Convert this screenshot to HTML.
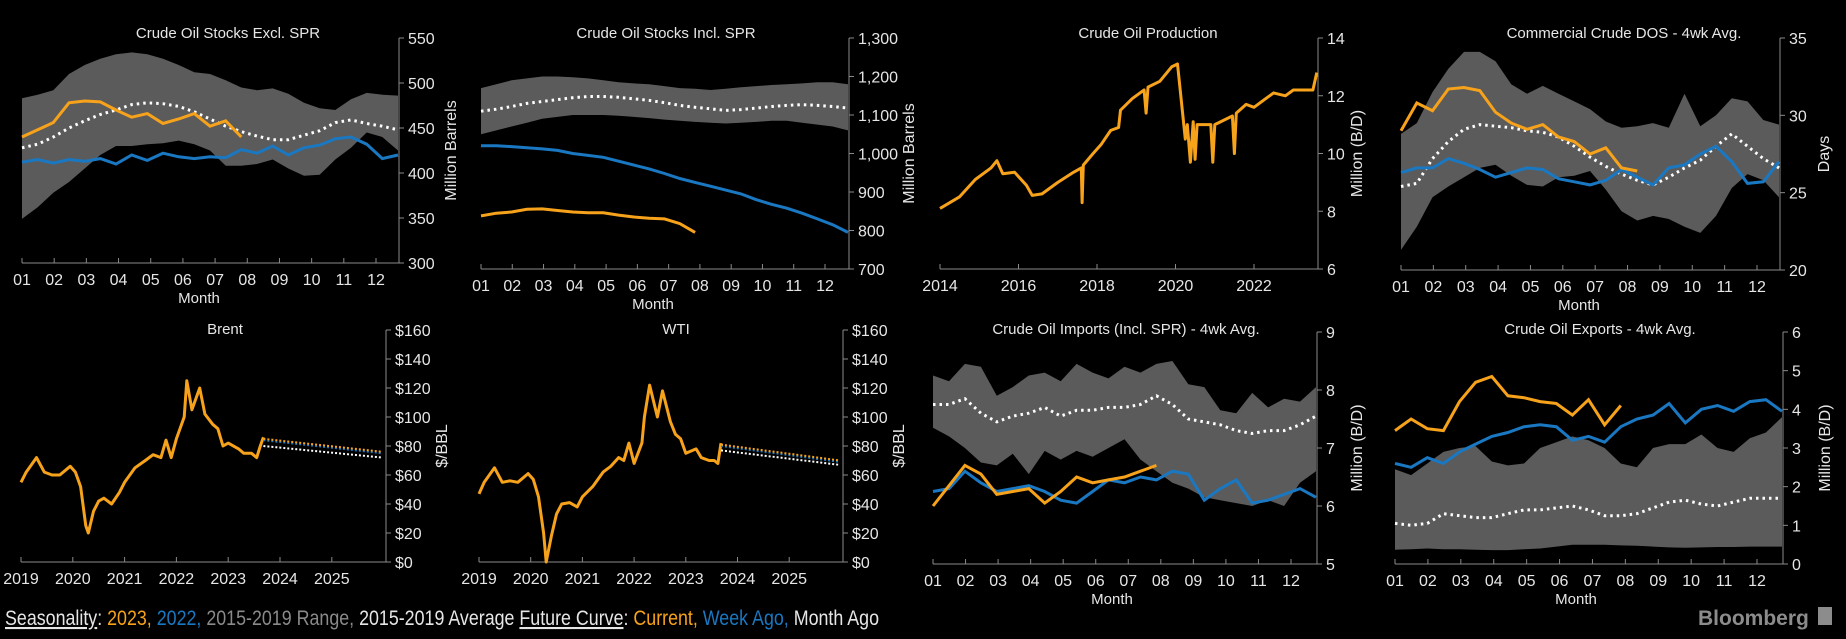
<!DOCTYPE html>
<html><head><meta charset="utf-8">
<style>
html,body{margin:0;padding:0;background:#000;}
svg{display:block;font-family:"Liberation Sans Narrow","Liberation Sans",sans-serif;}
</style></head>
<body>
<svg id="c" width="1846" height="639" viewBox="0 0 1846 639">
<text x="5" y="625" font-size="21" fill="#e6e6e6" textLength="874" lengthAdjust="spacingAndGlyphs"><tspan text-decoration="underline">Seasonality</tspan>: <tspan fill="#f7a21b">2023,</tspan> <tspan fill="#1a78c2">2022,</tspan> <tspan fill="#8a8a8a">2015-2019 Range,</tspan> 2015-2019 Average    <tspan text-decoration="underline">Future Curve</tspan>: <tspan fill="#f7a21b">Current,</tspan> <tspan fill="#1a78c2">Week Ago,</tspan> Month Ago</text>
<text x="1698" y="625" font-size="21" font-weight="bold" fill="#8c8c8c">Bloomberg</text>
<rect x="1818" y="607" width="14" height="18" fill="#8c8c8c"/>
</svg>
<script>
// ---- data ----
const p1Hi=[483,487,492,510,520,527,532,534,532,527,520,512,510,503,495,492,494,488,478,472,470,482,489,487,486];
const p1Lo=[349,362,378,390,405,420,430,430,432,433,436,432,425,408,408,410,415,405,397,398,415,428,445,440,425];
const p1Avg=[428,432,440,450,458,465,470,476,478,477,474,468,460,452,446,441,437,437,442,447,456,459,455,452,448];
const p1Y22=[412,415,411,415,413,416,410,420,414,422,418,416,418,417,426,422,430,420,428,431,438,440,432,416,420];
const p1Y23=[440,448,456,478,480,479,470,462,466,455,460,466,452,458,440];
const p1Ticks=[300,350,400,450,500,550];

const p2Hi=[1170,1180,1190,1195,1200,1200,1198,1195,1190,1185,1182,1180,1175,1170,1168,1165,1168,1172,1175,1178,1180,1182,1185,1185,1180];
const p2Lo=[1050,1060,1070,1080,1090,1095,1100,1100,1100,1098,1095,1092,1088,1085,1082,1080,1078,1080,1082,1085,1085,1080,1075,1070,1060];
const p2Avg=[1110,1115,1122,1130,1135,1140,1145,1148,1148,1146,1142,1138,1132,1125,1120,1116,1112,1114,1118,1122,1125,1127,1125,1122,1118];
const p2Y22=[1020,1020,1018,1015,1012,1008,1000,995,990,980,970,960,948,935,925,915,905,895,880,868,858,845,830,815,795];
const p2Y23=[838,845,848,855,856,852,848,846,846,840,835,832,830,818,795];
const p2Ticks=[700,800,900,1000,1100,1200,1300];

const p3Dates=[2014.0,2014.5,2014.9,2015.3,2015.45,2015.6,2015.9,2016.2,2016.35,2016.6,2017.0,2017.4,2017.6,2017.62,2017.65,2017.9,2018.1,2018.35,2018.55,2018.6,2018.9,2019.2,2019.25,2019.3,2019.6,2019.9,2020.05,2020.25,2020.3,2020.38,2020.45,2020.5,2020.55,2020.8,2020.9,2020.95,2021.0,2021.3,2021.45,2021.5,2021.55,2021.8,2022.0,2022.3,2022.5,2022.8,2023.0,2023.3,2023.5,2023.6];
const p3Vals=[8.1,8.5,9.1,9.5,9.75,9.3,9.35,8.9,8.55,8.6,9.0,9.35,9.5,8.3,9.6,10.0,10.3,10.8,10.9,11.5,11.9,12.2,11.4,12.3,12.5,13.0,13.1,10.5,11.0,9.7,11.1,9.8,11.0,11.0,11.0,9.7,11.0,11.2,11.3,10.0,11.4,11.7,11.6,11.9,12.1,12.0,12.2,12.2,12.2,12.8];
const p3Ticks=[6,8,10,12,14];
const p3Years=[2014,2016,2018,2020,2022];

const p4Hi=[28.8,29.5,31.5,33,34.1,34.1,33.5,32,31.4,31.9,31.4,30.9,30.4,29.6,29.2,29.3,29.5,29.2,31.4,29.3,30,31.1,30.9,29.7,29.4];
const p4Lo=[21.3,22.8,24.7,25.4,26.0,26.6,26.8,26.1,25.5,25.4,26.0,26.1,26.4,25.2,23.8,23.2,23.5,23.3,22.8,22.4,23.5,25.3,26.2,25.8,24.7];
const p4Avg=[25.4,25.6,27.2,28.3,29.1,29.4,29.3,29.2,29.0,28.9,28.6,28.0,27.3,26.7,26.2,25.8,25.5,26.0,26.6,27.1,28.0,28.8,28.0,27.2,26.6];
const p4Y22=[26.3,26.6,26.6,27.2,26.9,26.5,26.0,26.3,26.6,26.5,25.9,25.7,25.5,25.8,26.5,26.0,25.5,26.6,26.8,27.5,28.0,27.0,25.6,25.7,27.0];
const p4Y23=[29.0,30.8,30.3,31.7,31.8,31.6,30.2,29.5,29.1,29.4,28.6,28.3,27.5,27.9,26.6,26.4];
const p4Ticks=[20,25,30,35];

const brDates=[2019.0,2019.1,2019.3,2019.45,2019.6,2019.75,2019.95,2020.05,2020.15,2020.25,2020.3,2020.4,2020.5,2020.6,2020.75,2020.9,2021.0,2021.2,2021.4,2021.55,2021.7,2021.8,2021.9,2022.0,2022.15,2022.2,2022.3,2022.45,2022.55,2022.7,2022.8,2022.9,2023.0,2023.2,2023.3,2023.45,2023.55,2023.62,2023.68];
const brVals=[55,62,72,62,60,60,66,62,52,25,20,35,42,44,40,48,55,65,70,74,72,84,72,85,100,125,105,120,102,95,92,80,82,78,75,75,72,80,86];
const brFutDates=[2023.68,2025.98];
const brCur=[85,76];
const brWeek=[84,75];
const brMonth=[80,72];
const wtiVals=[47,55,65,55,56,55,61,57,45,20,0,18,33,40,41,38,45,52,62,66,72,70,82,68,82,100,122,100,118,97,88,85,75,78,72,70,70,68,82];
const wtiCur=[81,70];
const wtiWeek=[80,69];
const wtiMonth=[77,67];
const priceTicks=[0,20,40,60,80,100,120,140,160];
const priceYears=[2019,2020,2021,2022,2023,2024,2025];

const imHi=[8.25,8.15,8.45,8.4,7.9,8.05,8.25,8.3,8.15,8.45,8.3,8.2,8.4,8.3,8.45,8.5,8.1,8.05,7.65,7.6,7.95,7.7,7.85,7.8,8.05];
const imLo=[7.35,7.2,7.0,6.75,6.7,6.9,6.55,6.95,6.8,6.95,6.85,7.0,7.15,6.8,6.6,6.4,6.3,6.15,6.1,6.05,6.0,6.1,6.0,6.4,6.6];
const imAvg=[7.75,7.75,7.85,7.6,7.45,7.55,7.6,7.7,7.55,7.65,7.65,7.7,7.7,7.75,7.9,7.75,7.5,7.45,7.4,7.3,7.25,7.3,7.3,7.4,7.55];
const imY22=[6.25,6.3,6.6,6.4,6.25,6.3,6.35,6.25,6.1,6.05,6.25,6.45,6.4,6.5,6.45,6.6,6.55,6.1,6.3,6.45,6.05,6.1,6.2,6.3,6.15];
const imY23=[6.0,6.35,6.7,6.55,6.2,6.25,6.3,6.05,6.25,6.5,6.4,6.45,6.5,6.6,6.7];
const imTicks=[5,6,7,8,9];

const exHi=[2.45,2.3,2.6,2.9,3.0,3.05,2.65,2.55,2.6,3.0,3.15,3.3,3.2,3.0,2.6,2.5,3.0,3.1,3.1,3.35,3.0,2.9,3.25,3.4,3.8];
const exLo=[0.37,0.38,0.4,0.38,0.38,0.37,0.36,0.36,0.38,0.4,0.45,0.5,0.5,0.5,0.48,0.47,0.45,0.43,0.42,0.43,0.44,0.44,0.45,0.45,0.45];
const exAvg=[1.05,1.0,1.05,1.3,1.25,1.2,1.2,1.3,1.4,1.4,1.45,1.5,1.4,1.25,1.25,1.3,1.45,1.6,1.65,1.55,1.5,1.6,1.7,1.7,1.7];
const exY22=[2.6,2.5,2.75,2.6,2.9,3.1,3.3,3.4,3.55,3.6,3.55,3.2,3.3,3.15,3.55,3.75,3.85,4.15,3.65,4.0,4.1,3.95,4.2,4.25,3.95];
const exY23=[3.45,3.75,3.5,3.45,4.2,4.7,4.85,4.35,4.3,4.2,4.15,3.85,4.25,3.6,4.1];
const exTicks=[0,1,2,3,4,5,6];
const months=["01","02","03","04","05","06","07","08","09","10","11","12"];

// ---- drawing ----
const svg=document.getElementById('c');
const NS='http://www.w3.org/2000/svg';
const ORANGE='#f7a21b',BLUE='#1a78c2',BAND='#5b5b5b',TXT='#e6e6e6',AX='#8a8a8a';
function mk(tag,parent){const e=document.createElementNS(NS,tag);parent.appendChild(e);return e;}
function pts(xs,ys){return xs.map((x,i)=>x.toFixed(1)+','+ys[i].toFixed(1)).join(' ');}

function frame(g,c,fmt){
  const yS=v=>c.bot-(v-c.ymin)/(c.ymax-c.ymin)*(c.bot-c.top);
  const t=mk('text',g);t.textContent=c.title;
  t.setAttribute('x',c.tx);t.setAttribute('y',c.ty);t.setAttribute('font-size','15');t.setAttribute('fill',TXT);t.setAttribute('text-anchor','middle');
  
  
  const ya=mk('line',g);ya.setAttribute('x1',c.ax);ya.setAttribute('x2',c.ax);ya.setAttribute('y1',yS(c.ymax));ya.setAttribute('y2',c.bot);ya.setAttribute('stroke',AX);
  
  
  const xa=mk('line',g);xa.setAttribute('x1',c.left);xa.setAttribute('x2',c.ax);xa.setAttribute('y1',c.bot);xa.setAttribute('y2',c.bot);xa.setAttribute('stroke',AX);
  
  
  c.ticks.forEach(v=>{
    const y=yS(v);
    const tl=mk('line',g);tl.setAttribute('x1',c.ax);tl.setAttribute('x2',c.ax+5);tl.setAttribute('y1',y);tl.setAttribute('y2',y);tl.setAttribute('stroke',AX);
    
    
    const tt=mk('text',g);tt.textContent=fmt(v);tt.setAttribute('x',c.ax+9);tt.setAttribute('y',y+6);tt.setAttribute('font-size','16');tt.setAttribute('fill',TXT);
    
    
  });
  const yt=mk('text',g);yt.textContent=c.ytitle;
  yt.setAttribute('transform','translate('+c.ytx+','+((c.top+c.bot)/2)+') rotate(-90)');
  yt.setAttribute('font-size','16');yt.setAttribute('fill',TXT);yt.setAttribute('text-anchor','middle');
  
  
  return yS;
}

function seasonal(c){
  const g=mk('g',svg);
  
  
  const yS=frame(g,c,c.fmt||(v=>String(v)));
  const step=(c.ax-1-c.left)/24;
  const xs=a=>a.map((_,i)=>c.left+i*step);
  const band=mk('polygon',g);
  const bx=xs(c.hi);
  band.setAttribute('points',pts(bx,c.hi.map(yS))+' '+pts(bx.slice().reverse(),c.lo.slice().reverse().map(yS)));
  band.setAttribute('fill',BAND);
  
  
  const av=mk('polyline',g);av.setAttribute('points',pts(xs(c.avg),c.avg.map(yS)));
  av.setAttribute('fill','none');av.setAttribute('stroke','#fff');av.setAttribute('stroke-width','3');av.setAttribute('stroke-dasharray','2.5 4');
  
  
  const l22=mk('polyline',g);l22.setAttribute('points',pts(xs(c.y22),c.y22.map(yS)));
  l22.setAttribute('fill','none');l22.setAttribute('stroke',BLUE);l22.setAttribute('stroke-width','3');
  
  
  const l23=mk('polyline',g);l23.setAttribute('points',pts(xs(c.y23),c.y23.map(yS)));
  l23.setAttribute('fill','none');l23.setAttribute('stroke',ORANGE);l23.setAttribute('stroke-width','3');
  
  
  const ms=(c.x12-c.left)/11;
  months.forEach((m,i)=>{
    const x=c.left+i*ms;
    const tk=mk('line',g);tk.setAttribute('x1',x);tk.setAttribute('x2',x);tk.setAttribute('y1',c.bot);tk.setAttribute('y2',c.bot-5);tk.setAttribute('stroke',AX);
    
    
    const t=mk('text',g);t.textContent=m;t.setAttribute('x',x);t.setAttribute('y',c.bot+22);t.setAttribute('font-size','16');t.setAttribute('fill',TXT);t.setAttribute('text-anchor','middle');
    
    
  });
  const mt=mk('text',g);mt.textContent='Month';mt.setAttribute('x',(c.left+c.x12)/2);mt.setAttribute('y',c.bot+40);mt.setAttribute('font-size','15');mt.setAttribute('fill',TXT);mt.setAttribute('text-anchor','middle');
  
  
}

function timeSeries(c){
  const g=mk('g',svg);
  
  
  const yS=frame(g,c,c.fmt);
  const xS=d=>c.left+(d-c.y0)*c.pxy;
  const ln=mk('polyline',g);ln.setAttribute('points',pts(c.dates.map(xS),c.vals.map(yS)));
  ln.setAttribute('fill','none');ln.setAttribute('stroke',ORANGE);ln.setAttribute('stroke-width','3');ln.setAttribute('stroke-linejoin','round');
  
  
  if(c.cur){
    [[c.month,'#fff','month-ago-curve'],[c.week,BLUE,'week-ago-curve'],[c.cur,ORANGE,'current-curve']].forEach(([arr,col,nm])=>{
      const f=mk('polyline',g);f.setAttribute('points',pts(brFutDates.map(xS),arr.map(yS)));
      f.setAttribute('fill','none');f.setAttribute('stroke',col);f.setAttribute('stroke-width','2');f.setAttribute('stroke-dasharray','2 2');
      
      
    });
  }
  c.years.forEach(yv=>{
    const x=xS(yv);
    const tk=mk('line',g);tk.setAttribute('x1',x);tk.setAttribute('x2',x);tk.setAttribute('y1',c.bot);tk.setAttribute('y2',c.bot-5);tk.setAttribute('stroke',AX);
    
    
    const t=mk('text',g);t.textContent=yv;t.setAttribute('x',x);t.setAttribute('y',c.bot+22);t.setAttribute('font-size','16');t.setAttribute('fill',TXT);t.setAttribute('text-anchor','middle');
    
    
  });
}

seasonal({name:'crude-stocks-excl-spr',title:'Crude Oil Stocks Excl. SPR',tx:228,ty:38,left:22,x12:376,ax:399,top:38,bot:263,ymin:300,ymax:550,ticks:p1Ticks,ytitle:'Million Barrels',ytx:456,hi:p1Hi,lo:p1Lo,avg:p1Avg,y22:p1Y22,y23:p1Y23});
seasonal({name:'crude-stocks-incl-spr',title:'Crude Oil Stocks Incl. SPR',tx:666,ty:38,left:481,x12:825,ax:849,top:38,bot:269,ymin:700,ymax:1300,ticks:p2Ticks,ytitle:'Million Barrels',ytx:914,fmt:v=>v.toLocaleString('en-US'),hi:p2Hi,lo:p2Lo,avg:p2Avg,y22:p2Y22,y23:p2Y23});
timeSeries({name:'crude-production',title:'Crude Oil Production',tx:1148,ty:38,left:940,ax:1318,top:38,bot:269,ymin:6,ymax:14,ticks:p3Ticks,ytitle:'Million (B/D)',ytx:1362,fmt:v=>String(v),dates:p3Dates,vals:p3Vals,y0:2014,pxy:39.25,years:p3Years});
seasonal({name:'commercial-crude-dos',title:'Commercial Crude DOS - 4wk Avg.',tx:1624,ty:38,left:1401,x12:1757,ax:1780,top:38,bot:270,ymin:20,ymax:35,ticks:p4Ticks,ytitle:'Days',ytx:1829,hi:p4Hi,lo:p4Lo,avg:p4Avg,y22:p4Y22,y23:p4Y23});
timeSeries({name:'brent',title:'Brent',tx:225,ty:334,left:21,ax:386,top:330,bot:562,ymin:0,ymax:160,ticks:priceTicks,ytitle:'$/BBL',ytx:447,fmt:v=>'$'+v,dates:brDates,vals:brVals,y0:2019,pxy:51.8,years:priceYears,cur:brCur,week:brWeek,month:brMonth});
timeSeries({name:'wti',title:'WTI',tx:676,ty:334,left:479,ax:843,top:330,bot:562,ymin:0,ymax:160,ticks:priceTicks,ytitle:'$/BBL',ytx:904,fmt:v=>'$'+v,dates:brDates,vals:wtiVals,y0:2019,pxy:51.7,years:priceYears,cur:wtiCur,week:wtiWeek,month:wtiMonth});
seasonal({name:'crude-imports',title:'Crude Oil Imports (Incl. SPR) - 4wk Avg.',tx:1126,ty:334,left:933,x12:1291,ax:1317,top:332,bot:564,ymin:5,ymax:9,ticks:imTicks,ytitle:'Million (B/D)',ytx:1362,hi:imHi,lo:imLo,avg:imAvg,y22:imY22,y23:imY23});
seasonal({name:'crude-exports',title:'Crude Oil Exports - 4wk Avg.',tx:1600,ty:334,left:1395,x12:1757,ax:1783,top:332,bot:564,ymin:0,ymax:6,ticks:exTicks,ytitle:'Million (B/D)',ytx:1830,hi:exHi,lo:exLo,avg:exAvg,y22:exY22,y23:exY23});
</script>
</body></html>
